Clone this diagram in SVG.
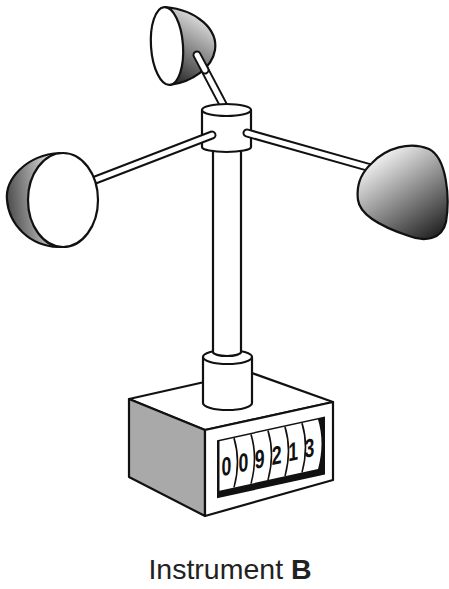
<svg xmlns="http://www.w3.org/2000/svg" width="449" height="589" viewBox="0 0 449 589">
<style>
.ol{stroke:#111;stroke-width:2.2;stroke-linejoin:round;fill:#fff}
.armb{stroke:#111;stroke-width:9;stroke-linecap:round;fill:none}
.armw{stroke:#fff;stroke-width:5;stroke-linecap:round;fill:none}
.dg{font-family:"Liberation Sans",Arial,sans-serif;font-weight:bold;font-size:26px;fill:#111;text-anchor:middle}
.sep{stroke:#111;stroke-width:1.6;fill:none}
</style>
<defs>
<linearGradient id="gTop" x1="0.7" y1="0" x2="0.3" y2="1">
<stop offset="0" stop-color="#f2f2f2"/><stop offset="1" stop-color="#2a2a2a"/>
</linearGradient>
<linearGradient id="gLeft" x1="0" y1="0.6" x2="1" y2="0.4">
<stop offset="0" stop-color="#4a4a4a"/><stop offset="1" stop-color="#eeeeee"/>
</linearGradient>
<linearGradient id="gRight" x1="0.2" y1="0.1" x2="0.8" y2="1">
<stop offset="0" stop-color="#f6f6f6"/><stop offset="1" stop-color="#262626"/>
</linearGradient>
</defs>

<g id="base">
<polygon class="ol" points="129,399 249,372 333,402 205,430"/>
<polygon class="ol" style="fill:#a9a9a9" points="129,399 205,430 205,516 129,477"/>
<polygon class="ol" points="205,430 333,402 333,480 205,516"/>
<g id="counter" transform="matrix(1,-0.22,0,1,0,0)">
<rect x="217" y="488" width="108" height="58" fill="#111"/>
<path d="M219.5,489.5 L318,489.5 Q325,514 318,539 L219.5,539 Z" fill="#fff"/>
<path class="sep" d="M234,489.5 Q241,514 234,539"/>
<path class="sep" d="M251,489.5 Q258,514 251,539"/>
<path class="sep" d="M268,489.5 Q275,514 268,539"/>
<path class="sep" d="M285,489.5 Q292,514 285,539"/>
<path class="sep" d="M302,489.5 Q309,514 302,539"/>
<g transform="scale(0.68,1)">
<text class="dg" x="333" y="525">0</text>
<text class="dg" x="358" y="525">0</text>
<text class="dg" x="382" y="525">9</text>
<text class="dg" x="407" y="525">2</text>
<text class="dg" x="431" y="525">1</text>
<text class="dg" x="455" y="525">3</text>
</g>
</g>
</g>

<g id="lower-cylinder">
<path class="ol" d="M203,357 L203,403 A24.5,7 0 0 0 252,403 L252,357 Z"/>
<ellipse class="ol" cx="227.5" cy="357" rx="24.5" ry="7"/>
</g>

<g id="pole">
<path class="ol" d="M213,145 L213,352 A14,4 0 0 0 241,352 L241,145 Z"/>
</g>

<g id="top-arm">
<path class="armb" d="M197,55 L226,110"/>
<path class="armw" d="M197,55 L226,110"/>
</g>

<g id="top-cup">
<path class="ol" style="fill:url(#gTop)" d="M165,7 C198,10 218,30 215,50 C212,68 192,82 170,85 Z"/>
<ellipse class="ol" cx="167" cy="46" rx="16" ry="39" transform="rotate(-4 167 46)"/>
<path class="armb" d="M197,55 L205,70"/>
<path class="armw" d="M197,55 L205,70"/>
</g>

<g id="hub">
<path class="ol" d="M202,110 L202,147 A24.5,5 0 0 0 251,147 L251,110 Z"/>
<ellipse class="ol" cx="226.5" cy="110" rx="24.5" ry="6"/>
</g>

<g id="left-arm">
<path class="armb" d="M90,182 L212,135"/>
<path class="armw" d="M90,182 L212,135"/>
</g>

<g id="right-arm">
<path class="armb" d="M247,133 L378,170"/>
<path class="armw" d="M247,133 L378,170"/>
</g>

<g id="left-cup">
<path class="ol" style="fill:url(#gLeft)" d="M60,153 C25,155 5,180 7,200 C9,225 30,246 58,247 Z"/>
<ellipse class="ol" cx="63" cy="200" rx="35" ry="47"/>
</g>

<g id="right-cup">
<path class="ol" style="fill:url(#gRight)" d="M372,163 C386,148 410,141 429,149 C447,158 450,198 446,222 C442,240 424,242 409,236 C385,228 360,216 358,200 C356,185 362,172 372,163 Z"/>
</g>

<text x="230" y="579" font-family="'Liberation Sans',Arial,sans-serif" font-size="28.5" fill="#222" text-anchor="middle">Instrument <tspan font-weight="bold">B</tspan></text>
</svg>
